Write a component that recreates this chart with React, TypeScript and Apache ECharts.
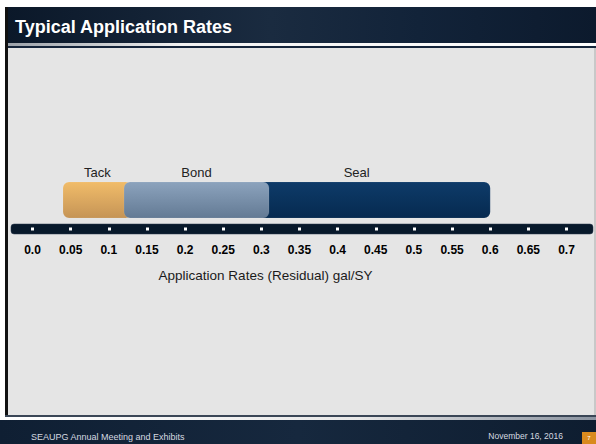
import React, { useEffect, useRef } from "react";
import * as echarts from "echarts";

const slideTitle = "Typical Application Rates";
const axisTitle = "Application Rates (Residual) gal/SY";
const footerLeft = "SEAUPG Annual Meeting and Exhibits";
const footerDate = "November 16, 2016";
const slideNumber = "7";

// drawing order: later items are drawn on top
const phases = ["Seal", "Tack", "Bond"];
const rateMin = [0.25, 0.04, 0.12];
const rateMax = [0.6, 0.13, 0.31];

const axisMin = 0;
const axisMax = 0.7;
const axisStep = 0.05;

const phaseColors: Record<string, [string, string]> = {
  Tack: ["#f1bc69", "#c59456"],
  Bond: ["#8ca3bd", "#637a94"],
  Seal: ["#0e3b69", "#062a50"],
};

export default function App() {
  const ref = useRef<HTMLDivElement>(null);
  useEffect(() => {
    if (!ref.current) return;
    const chart = echarts.init(ref.current, null, { renderer: "svg" });
    const grad = (c: [string, string]) =>
      new echarts.graphic.LinearGradient(0, 0, 0, 1, [
        { offset: 0, color: c[0] },
        { offset: 1, color: c[1] },
      ]);
    chart.setOption({
      animation: false,
      backgroundColor: "#ffffff",
      graphic: [
        // header
        {
          type: "rect", z: -10, silent: true,
          shape: { x: 5, y: 7, width: 591, height: 36 },
          style: {
            fill: new echarts.graphic.LinearGradient(0, 0, 1, 0, [
              { offset: 0, color: "#0b1829" },
              { offset: 0.45, color: "#1a2b40" },
              { offset: 0.7, color: "#122339" },
              { offset: 1, color: "#0c1a2d" },
            ]),
          },
        },
        {
          type: "rect", z: -9, silent: true,
          shape: { x: 5, y: 43, width: 591, height: 3 },
          style: {
            fill: new echarts.graphic.LinearGradient(0, 0, 1, 0, [
              { offset: 0, color: "#9aa0a8" },
              { offset: 0.3, color: "#f2f2f2" },
              { offset: 1, color: "#ffffff" },
            ]),
          },
        },
        {
          type: "rect", z: -9, silent: true,
          shape: { x: 5, y: 46, width: 591, height: 2 },
          style: { fill: "#14243a" },
        },
        // content area
        {
          type: "rect", z: -10, silent: true,
          shape: { x: 5, y: 48, width: 591, height: 367 },
          style: { fill: "#e5e5e5" },
        },
        {
          type: "rect", z: -9, silent: true,
          shape: { x: 5, y: 7, width: 3, height: 411 },
          style: { fill: "#111111" },
        },
        {
          type: "rect", z: -9, silent: true,
          shape: { x: 594, y: 48, width: 2, height: 367 },
          style: { fill: "#c8c8c8" },
        },
        // footer
        {
          type: "rect", z: -9, silent: true,
          shape: { x: 5, y: 415, width: 591, height: 2 },
          style: { fill: "#3a4656" },
        },
        {
          type: "rect", z: -9, silent: true,
          shape: { x: 5, y: 417, width: 591, height: 3 },
          style: {
            fill: new echarts.graphic.LinearGradient(0, 0, 1, 0, [
              { offset: 0, color: "#ffffff" },
              { offset: 0.6, color: "#e8e8e8" },
              { offset: 1, color: "#8a93a0" },
            ]),
          },
        },
        {
          type: "rect", z: -10, silent: true,
          shape: { x: 0, y: 420, width: 596, height: 24 },
          style: {
            fill: new echarts.graphic.LinearGradient(0, 0, 1, 0, [
              { offset: 0, color: "#0f1f33" },
              { offset: 0.5, color: "#16283e" },
              { offset: 1, color: "#0e1d30" },
            ]),
          },
        },
        {
          type: "rect", z: -8, silent: true,
          shape: { x: 582, y: 432, width: 14, height: 12 },
          style: { fill: "#d98a1e" },
        },
        {
          type: "text", z: -7, silent: true,
          x: 589, y: 438,
          style: {
            text: slideNumber, fill: "#ffffff", fontSize: 6,
            fontFamily: "Liberation Sans", align: "center", verticalAlign: "middle",
          },
        },
        {
          type: "text", z: -7, silent: true,
          x: 31, y: 437,
          style: {
            text: footerLeft, fill: "#d6dae0", fontSize: 9,
            fontFamily: "Liberation Sans", align: "left", verticalAlign: "middle",
          },
        },
        {
          type: "text", z: -7, silent: true,
          x: 563, y: 436,
          style: {
            text: footerDate, fill: "#d6dae0", fontSize: 8.5,
            fontFamily: "Liberation Sans", align: "right", verticalAlign: "middle",
          },
        },
        {
          type: "text", z: -7, silent: true,
          x: 15, y: 27,
          style: {
            text: slideTitle, fill: "#ffffff", fontSize: 18, fontWeight: "bold",
            fontFamily: "Liberation Sans", align: "left", verticalAlign: "middle",
          },
        },
        // axis bar
        {
          type: "rect", z: -5, silent: true,
          shape: { x: 11, y: 224, width: 582, height: 10, r: 3 },
          style: { fill: "#08192b", stroke: "#2a3a4e", lineWidth: 0.5 },
        },
      ],
      grid: { left: 32.5, right: 29.5, top: 182, height: 36 },
      xAxis: {
        type: "value",
        min: axisMin,
        max: axisMax,
        interval: axisStep,
        offset: 12.5,
        axisLine: { show: false },
        splitLine: { show: false },
        axisTick: {
          show: true, inside: true, length: 3,
          lineStyle: { color: "#ffffff", width: 3 },
        },
        axisLabel: {
          margin: 13,
          color: "#000000",
          fontSize: 12,
          fontWeight: "bold",
          fontFamily: "Liberation Sans",
          formatter: (v: number) => (v === 0 ? "0.0" : String(+v.toFixed(2))),
        },
        name: axisTitle,
        nameLocation: "middle",
        nameGap: 38,
        nameTextStyle: {
          color: "#1a1a1a",
          fontSize: 13.5,
          fontFamily: "Liberation Sans",
          padding: [0, 68, 0, 0],
        },
      },
      yAxis: {
        type: "category",
        data: ["rate"],
        show: false,
      },
      series: [
        {
          type: "custom",
          encode: { x: [0, 1], y: 2 },
          data: phases.map((p, i) => [rateMin[i], rateMax[i], 0, p]),
          renderItem: (params: any, api: any) => {
            const start = api.coord([api.value(0), api.value(2)]);
            const end = api.coord([api.value(1), api.value(2)]);
            const h = api.size([0, 1])[1];
            const name = phases[params.dataIndex];
            const top = start[1] - h / 2;
            return {
              type: "group",
              children: [
                {
                  type: "rect",
                  shape: { x: start[0], y: top, width: end[0] - start[0], height: h, r: 6 },
                  style: { fill: grad(phaseColors[name]), stroke: "rgba(255,255,255,0.15)", lineWidth: 0.6 },
                },
                {
                  type: "text",
                  x: (start[0] + end[0]) / 2,
                  y: top - 10,
                  style: {
                    text: name, fill: "#222222", fontSize: 13,
                    fontFamily: "Liberation Sans", align: "center", verticalAlign: "middle",
                  },
                },
              ],
            };
          },
        },
      ],
    });
    return () => chart.dispose();
  }, []);
  return (
    <div
      ref={ref}
      style={{ position: "absolute", left: 0, top: 0, width: 596, height: 444 }}
    />
  );
}
